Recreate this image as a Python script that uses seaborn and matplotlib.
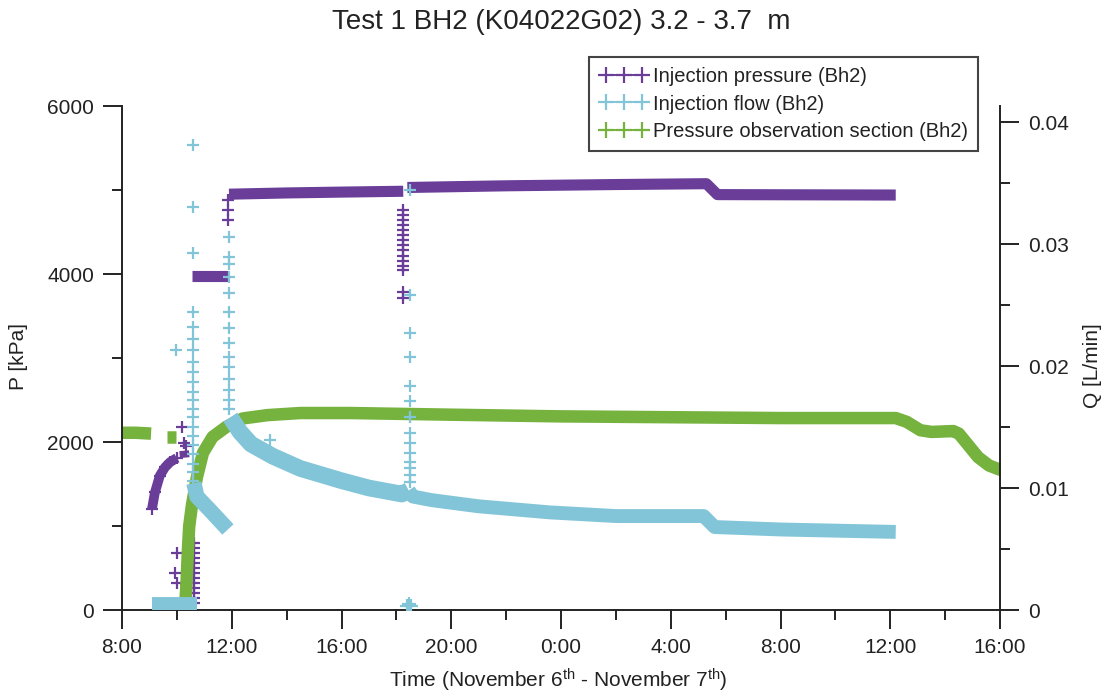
import matplotlib
matplotlib.use("Agg")
import matplotlib.pyplot as plt
import seaborn as sns
import numpy as np
from matplotlib.lines import Line2D
from matplotlib.ticker import FixedLocator, MultipleLocator

# ---------------- data (time = hours after 08:00, Nov 6) ----------------
x_ticks = [0, 4, 8, 12, 16, 20, 24, 28, 32]
x_tick_labels = ["8:00", "12:00", "16:00", "20:00", "0:00", "4:00", "8:00", "12:00", "16:00"]
p_ticks = [0, 2000, 4000, 6000]
q_ticks = [0, 0.01, 0.02, 0.03, 0.04]
q_tick_labels = ["0", "0.01", "0.02", "0.03", "0.04"]

# Injection pressure (kPa)
p_pre_t = [1.09, 1.2, 1.38, 1.57, 1.75, 2.0]
p_pre_v = [1200, 1400, 1600, 1700, 1760, 1810]
p_pre2_t = [2.1, 2.45]
p_pre2_v = [1850, 1860]
p_low_t = [2.0, 2.6]
p_low_v = [60, 60]
p_s4000_t = [2.55, 3.86]
p_s4000_v = [3980, 3980]
p_s4960_t = [3.9, 6.0, 8.0, 10.25]
p_s4960_v = [4950, 4965, 4975, 4985]
p_s5050_t = [10.4, 14.0, 18.0, 21.3, 21.7, 28.2]
p_s5050_v = [5030, 5050, 5065, 5075, 4945, 4940]
p_pts_t = [2.2, 2.25, 2.35, 1.93, 2.0, 2.02, 3.86, 3.86, 3.86]
p_pts_v = [2180, 1990, 1950, 440, 680, 320, 4640, 4760, 4880]
p_bar_t = 2.62
p_bar_v = [800, 740, 680, 620, 560, 500, 440, 380, 320, 260, 200, 140, 80]
p_spike_t = 10.24
p_spike_v = [4760, 4700, 4640, 4580, 4520, 4460, 4400, 4340, 4280, 4220,
             4160, 4100, 4050, 3780, 3720]

# Injection flow (L/min)
q_zero_t = [1.1, 2.73]
q_zero_v = [0.0005, 0.0005]
q_dec1_t = [2.62, 2.73, 3.2, 3.86]
q_dec1_v = [0.0104, 0.0093, 0.0082, 0.0066]
q_dec2_t = [3.95, 4.3, 4.7, 5.5, 6.5, 8.0, 9.0, 10.2, 10.45]
q_dec2_v = [0.0158, 0.0146, 0.0136, 0.0126, 0.0116, 0.0106, 0.0100, 0.0095, 0.0098]
q_dec3_t = [10.45, 10.6, 11.3, 13.0, 15.6, 18.0, 21.2, 21.6, 24.0, 28.2]
q_dec3_v = [0.0098, 0.0093, 0.0090, 0.0085, 0.0080, 0.0077, 0.0077, 0.0068, 0.0066, 0.0064]
q_zero2_t = [10.38, 10.45, 10.52]
q_zero2_v = [0.0003, 0.0005, 0.0003]
q_spike1_t = 2.6
q_spike1_v = [0.0381, 0.0330, 0.0293, 0.0244, 0.0232, 0.0222, 0.0213, 0.0203,
              0.0195, 0.0187, 0.0179, 0.0172, 0.0165, 0.0158, 0.0150, 0.0143,
              0.0135, 0.0128, 0.0120, 0.0113, 0.0106]
q_spike2_t = 3.9
q_spike2_v = [0.0306, 0.0289, 0.0284, 0.0273, 0.0260, 0.0244, 0.0231, 0.0219,
              0.0207, 0.0199, 0.0189, 0.0180, 0.0172, 0.0165]
q_spike3_t = 10.5
q_spike3_v = [0.0344, 0.0258, 0.0227, 0.0207, 0.0184, 0.0171, 0.0158, 0.0145,
              0.0137, 0.0129, 0.0121, 0.0116, 0.0111, 0.0105]
q_pts_t = [1.97, 5.4]
q_pts_v = [0.0213, 0.0139]

# Pressure observation section (kPa)
g_pre_t = [0.0, 0.5, 1.06]
g_pre_v = [2110, 2110, 2100]
g_pre2_t = [1.65, 1.98]
g_pre2_v = [2060, 2060]
g_main_t = [2.3, 2.35, 2.4, 2.45, 2.55, 2.73, 2.95, 3.3, 3.8, 4.4, 5.3, 6.5, 8.3,
            12.0, 16.0, 20.0, 24.0, 28.2, 28.6, 29.1, 29.5, 30.3, 30.5, 31.2,
            31.6, 32.0, 32.2]
g_main_v = [50, 300, 700, 1000, 1250, 1580, 1870, 2060, 2180, 2280, 2320, 2345, 2345,
            2325, 2305, 2295, 2285, 2285, 2240, 2140, 2120, 2130, 2100, 1820,
            1720, 1670, 1665]

labels = ["Injection pressure (Bh2)", "Injection flow (Bh2)",
          "Pressure observation section (Bh2)"]
title = "Test 1 BH2 (K04022G02) 3.2 - 3.7  m"

# ---------------- style ----------------
PURPLE = "#6A3D99"
CYAN = "#82C5D8"
GREEN = "#76B23E"
INK = "#222222"

sns.set_theme(style="white")
plt.rcParams["font.family"] = ["Liberation Sans", "DejaVu Sans"]
plt.rcParams["mathtext.fontset"] = "custom"
plt.rcParams["mathtext.rm"] = "Liberation Sans"
plt.rcParams["mathtext.it"] = "Liberation Sans:italic"

fig = plt.figure(figsize=(11.12, 6.99), dpi=100)
ax = fig.add_axes([122 / 1112, 1 - 610 / 699, 878 / 1112, 504 / 699])
ax2 = ax.twinx()


def band(axis, t, v, color, lw):
    sns.lineplot(x=np.array(t), y=np.array(v), ax=axis, color=color, lw=lw,
                 sort=False, estimator=None, solid_capstyle="butt")


def pluses(axis, t, v, color, s=80):
    sns.scatterplot(x=np.array(t, dtype=float), y=np.array(v, dtype=float), ax=axis,
                    color=color, marker="+", s=s, linewidth=1.6)


# green (observation pressure)
band(ax, g_pre_t, g_pre_v, GREEN, 9)
band(ax, g_pre2_t, g_pre2_v, GREEN, 9)
band(ax, g_main_t, g_main_v, GREEN, 9)
pluses(ax, g_main_t[:6], g_main_v[:6], GREEN)

# purple (injection pressure)
band(ax, p_pre_t, p_pre_v, PURPLE, 7)
band(ax, p_pre2_t, p_pre2_v, PURPLE, 5)
band(ax, p_low_t, p_low_v, PURPLE, 3)
band(ax, p_s4000_t, p_s4000_v, PURPLE, 8)
band(ax, p_s4960_t, p_s4960_v, PURPLE, 8)
band(ax, p_s5050_t, p_s5050_v, PURPLE, 8)
pluses(ax, p_pts_t, p_pts_v, PURPLE)
pluses(ax, [p_bar_t] * len(p_bar_v), p_bar_v, PURPLE)
pluses(ax, [p_spike_t] * len(p_spike_v), p_spike_v, PURPLE)
pluses(ax, p_pre_t, p_pre_v, PURPLE)

# cyan (injection flow) on right axis
band(ax2, q_zero_t, q_zero_v, CYAN, 10)
band(ax2, q_dec1_t, q_dec1_v, CYAN, 11)
band(ax2, q_dec2_t, q_dec2_v, CYAN, 12)
band(ax2, q_dec3_t, q_dec3_v, CYAN, 10)
pluses(ax2, q_zero2_t, q_zero2_v, CYAN, s=110)
pluses(ax2, [q_spike1_t] * len(q_spike1_v), q_spike1_v, CYAN)
pluses(ax2, [q_spike2_t] * len(q_spike2_v), q_spike2_v, CYAN)
pluses(ax2, [q_spike3_t] * len(q_spike3_v), q_spike3_v, CYAN)
pluses(ax2, q_pts_t, q_pts_v, CYAN)

# ---------------- axes ----------------
ax.set_xlim(0, 32)
ax.set_ylim(0, 6000)
ax2.set_ylim(0, 0.04 * 504 / 488)

ax.xaxis.set_major_locator(FixedLocator(x_ticks))
ax.set_xticklabels(x_tick_labels)
ax.xaxis.set_minor_locator(MultipleLocator(2))
ax.yaxis.set_major_locator(FixedLocator(p_ticks))
ax.set_yticklabels([str(v) for v in p_ticks])
ax.yaxis.set_minor_locator(MultipleLocator(1000))
ax2.yaxis.set_major_locator(FixedLocator(q_ticks))
ax2.set_yticklabels(q_tick_labels)
ax2.yaxis.set_minor_locator(MultipleLocator(0.005))

for a in (ax, ax2):
    a.set_xlabel("")
    a.set_ylabel("")
    for s in a.spines.values():
        s.set_color(INK)
        s.set_linewidth(1.4)
    a.spines["top"].set_visible(False)
ax.spines["right"].set_visible(False)
ax2.spines["left"].set_visible(False)
ax2.spines["bottom"].set_visible(False)

ax.tick_params(axis="both", which="major", direction="out", length=14, width=1.4,
               color=INK, labelcolor=INK, labelsize=15, pad=6,
               bottom=True, left=True, top=False, right=False)
ax.tick_params(axis="both", which="minor", direction="out", length=7, width=1.4,
               color=INK, bottom=True, left=True, top=False, right=False)
ax2.tick_params(axis="y", which="major", direction="out", length=14, width=1.4,
                color=INK, labelcolor=INK, labelsize=15, pad=6, right=True, left=False)
ax2.tick_params(axis="y", which="minor", direction="out", length=7, width=1.4,
                color=INK, right=True, left=False)

fig.text(561 / 1112, 1 - 22 / 699, title, ha="center", va="center",
         fontsize=20, color=INK)
fig.text(558 / 1112, 1 - 680 / 699,
         r"Time (November 6$^{\mathrm{th}}$ - November 7$^{\mathrm{th}}$)",
         ha="center", va="center", fontsize=15, color=INK)
fig.text(19 / 1112, 1 - 357 / 699, "P [kPa]", ha="center", va="center",
         rotation=90, fontsize=15, color=INK)
fig.text(1092 / 1112, 1 - 366 / 699, "Q [L/min]", ha="center", va="center",
         rotation=90, fontsize=15, color=INK)

handles = [Line2D([], [], color=c, marker="+", markersize=12, mew=1.6, lw=1.4)
           for c in (PURPLE, CYAN, GREEN)]
leg = ax2.legend(handles, labels, loc="upper right",
                 bbox_to_anchor=(978 / 1112, 1 - 57 / 699),
                 bbox_transform=fig.transFigure, borderaxespad=0, frameon=True,
                 fancybox=False, edgecolor="#444444", fontsize=14.5,
                 handlelength=2.4, handletextpad=0.25, labelspacing=0.42,
                 borderpad=0.5, numpoints=3, framealpha=1)
leg.get_frame().set_linewidth(1.5)
for t in leg.get_texts():
    t.set_color(INK)

fig.savefig("out.png", dpi=100)
